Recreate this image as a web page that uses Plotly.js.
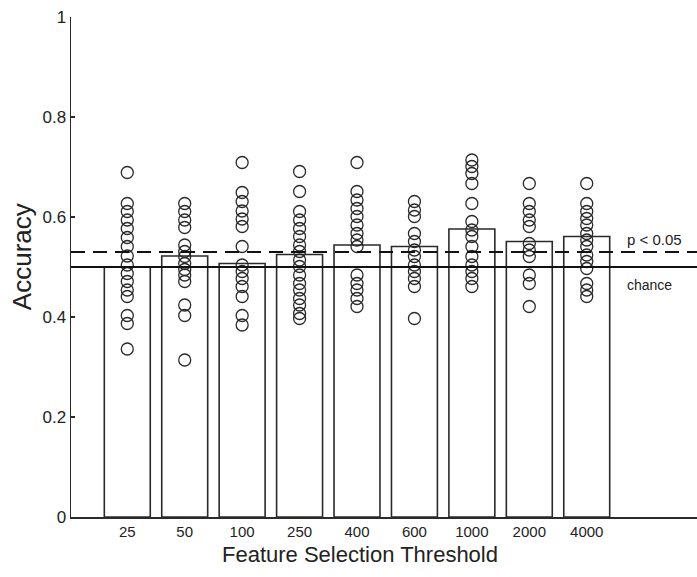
<!DOCTYPE html>
<html>
<head>
<meta charset="utf-8">
<script src="https://cdn.plot.ly/plotly-3.0.1.min.js"></script>
<style>html,body{margin:0;padding:0;background:#fff;}#chart{width:697px;height:577px;}</style>
</head>
<body>
<div id="chart"></div>
<script>
// Feature selection thresholds (categories)
const categories = ["25","50","100","250","400","600","1000","2000","4000"];
// Mean accuracy per threshold (bar heights)
const meanAccuracy = [0.500, 0.522, 0.507, 0.525, 0.544, 0.541, 0.576, 0.551, 0.561];
// Individual subject accuracies per threshold
const subj25   = [0.689,0.627,0.611,0.594,0.577,0.559,0.541,0.522,0.504,0.487,0.471,0.454,0.441,0.403,0.387,0.336];
const subj50   = [0.627,0.611,0.594,0.579,0.544,0.531,0.521,0.507,0.495,0.484,0.471,0.424,0.403,0.314];
const subj100  = [0.709,0.649,0.631,0.612,0.596,0.581,0.541,0.504,0.491,0.477,0.461,0.441,0.403,0.384];
const subj250  = [0.691,0.651,0.611,0.594,0.577,0.561,0.544,0.531,0.514,0.501,0.484,0.467,0.454,0.437,0.424,0.407,0.397];
const subj400  = [0.709,0.651,0.634,0.617,0.601,0.584,0.567,0.554,0.541,0.484,0.467,0.454,0.437,0.421];
const subj600  = [0.631,0.614,0.601,0.567,0.551,0.534,0.521,0.504,0.491,0.477,0.461,0.397];
const subj1000 = [0.714,0.701,0.687,0.667,0.627,0.591,0.574,0.561,0.541,0.521,0.504,0.491,0.477,0.461];
const subj2000 = [0.667,0.627,0.611,0.594,0.581,0.547,0.534,0.521,0.484,0.467,0.421];
const subj4000 = [0.667,0.627,0.611,0.597,0.584,0.567,0.554,0.541,0.524,0.511,0.497,0.467,0.454,0.441];
const subjects = [subj25,subj50,subj100,subj250,subj400,subj600,subj1000,subj2000,subj4000];
// Reference levels
const chanceLevel = 0.5;
const significanceLevel = 0.53;
const yTickVals = [0,0.2,0.4,0.6,0.8,1];
const yTickText = ["0","0.2","0.4","0.6","0.8","1"];

const ink = "#2a2a2a";
const ptsX = [], ptsY = [];
subjects.forEach((arr, i) => arr.forEach(v => { ptsX.push(categories[i]); ptsY.push(v); }));

const traces = [
  {
    type: "bar", x: categories, y: meanAccuracy, width: 0.8,
    marker: {color: "#ffffff", line: {color: ink, width: 1.6}},
    hoverinfo: "skip", showlegend: false
  },
  {
    type: "scatter", mode: "markers", x: ptsX, y: ptsY,
    marker: {symbol: "circle-open", size: 12, color: ink, line: {width: 1.3, color: ink}},
    hoverinfo: "skip", showlegend: false
  }
];

const layout = {
  width: 697, height: 577,
  margin: {l: 71, r: 0, t: 17, b: 60, pad: 0},
  paper_bgcolor: "#ffffff", plot_bgcolor: "#ffffff",
  font: {family: "Arial, 'Liberation Sans', sans-serif", color: "#222", size: 15},
  xaxis: {
    type: "category", range: [-0.98, 9.92],
    showgrid: false, zeroline: false, showline: true, linecolor: ink, linewidth: 1.5,
    ticks: "", tickfont: {size: 15},
    automargin: false, fixedrange: true
  },
  yaxis: {
    range: [0, 1], tickvals: yTickVals, ticktext: yTickText,
    showgrid: false, zeroline: false, showline: true, linecolor: ink, linewidth: 1.5,
    ticks: "inside", ticklen: 4, tickwidth: 1.5, tickcolor: ink, tickfont: {size: 17},
    automargin: false, fixedrange: true
  },
  shapes: [
    {type: "line", xref: "paper", x0: 0, x1: 1, yref: "y", y0: chanceLevel, y1: chanceLevel,
     line: {color: "#111", width: 2.2}, layer: "above"},
    {type: "line", xref: "paper", x0: 0, x1: 1, yref: "y", y0: significanceLevel, y1: significanceLevel,
     line: {color: "#111", width: 2.2, dash: "14px,8px"}, layer: "above"}
  ],
  annotations: [
    {x: 8.66, y: 0.556, xref: "x", yref: "y", text: "p < 0.05", showarrow: false, xanchor: "left", yanchor: "middle", font: {size: 15, color: "#222"}},
    {x: 8.66, y: 0.464, xref: "x", yref: "y", text: "chance", showarrow: false, xanchor: "left", yanchor: "middle", font: {size: 14, color: "#222"}},
    {x: 0.462, y: -0.074, xref: "paper", yref: "paper", text: "Feature Selection Threshold", showarrow: false, xanchor: "center", yanchor: "middle", font: {size: 22, color: "#222"}},
    {x: -0.078, y: 0.52, xref: "paper", yref: "paper", text: "Accuracy", textangle: -90, showarrow: false, xanchor: "center", yanchor: "middle", font: {size: 26, color: "#222"}}
  ]
};

Plotly.newPlot("chart", traces, layout, {displayModeBar: false, staticPlot: true});
</script>
</body>
</html>
